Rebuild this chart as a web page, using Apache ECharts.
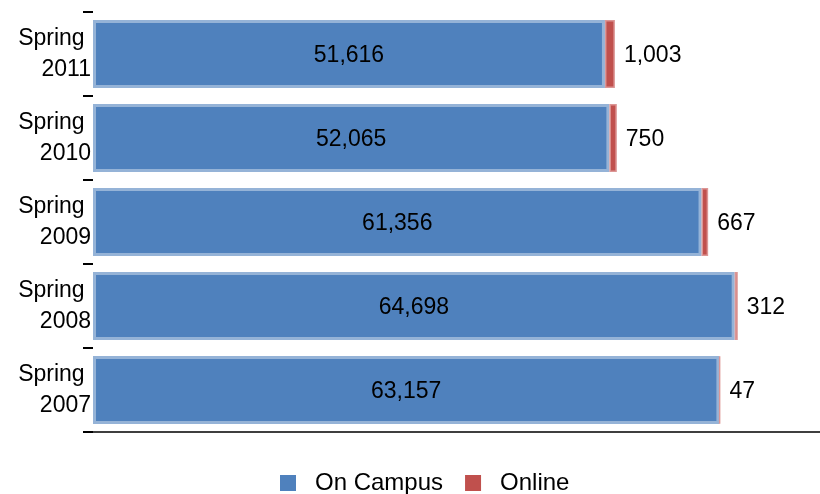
<!DOCTYPE html>
<html>
<head>
<meta charset="utf-8">
<script src="https://cdn.jsdelivr.net/npm/echarts@6/dist/echarts.min.js"></script>
<style>html,body{margin:0;padding:0;background:#fff}#c{width:820px;height:494px}</style>
</head>
<body>
<div id="c"></div>
<script>
var categories = ['Spring \n2007', 'Spring \n2008', 'Spring \n2009', 'Spring \n2010', 'Spring \n2011'];
var onCampus = [63157, 64698, 61356, 52065, 51616];
var online = [47, 312, 667, 750, 1003];
var seriesNames = ['On Campus', 'Online'];

var FONT = 'Liberation Sans, Arial, sans-serif';
var chart = echarts.init(document.getElementById('c'), null, {renderer: 'canvas'});
chart.setOption({
  animation: false,
  grid: {left: 93, right: 0, top: 12, bottom: 62, containLabel: false},
  legend: {
    top: 466,
    left: 275,
    itemWidth: 16, itemHeight: 16, itemGap: 22,
    icon: 'rect',
    itemStyle: {borderWidth: 0},
    textStyle: {fontFamily: FONT, fontSize: 24, color: '#000', padding: [0, 0, 0, 14]},
    data: seriesNames
  },
  xAxis: {
    type: 'value', min: 0, max: 73300,
    axisLine: {show: true, lineStyle: {color: '#000', width: 1.5}},
    axisTick: {show: false}, axisLabel: {show: false}, splitLine: {show: false}
  },
  yAxis: {
    type: 'category', data: categories,
    axisLine: {show: false},
    axisTick: {show: true, length: 10, lineStyle: {color: '#000', width: 2}},
    axisLabel: {fontFamily: FONT, fontSize: 23, color: '#000', lineHeight: 31, margin: 2, align: 'right'}
  },
  series: [
    {
      name: seriesNames[0], type: 'bar', stack: 't', data: onCampus,
      barCategoryGap: '19%',
      itemStyle: {color: '#4f81bd', borderColor: '#95b3d7', borderWidth: 3},
      label: {show: true, position: 'inside', offset: [0, 2], fontFamily: FONT, fontSize: 23, color: '#000',
        formatter: function (p) { return p.value.toLocaleString('en-US'); }}
    },
    {
      name: seriesNames[1], type: 'bar', stack: 't', data: online,
      barCategoryGap: '19%',
      itemStyle: {color: '#c0504d', borderColor: '#dc9695', borderWidth: 1.5},
      label: {show: true, position: 'right', distance: 9, offset: [0, 2], fontFamily: FONT, fontSize: 23, color: '#000',
        formatter: function (p) { return p.value.toLocaleString('en-US'); }}
    }
  ]
});
</script>
</body>
</html>
